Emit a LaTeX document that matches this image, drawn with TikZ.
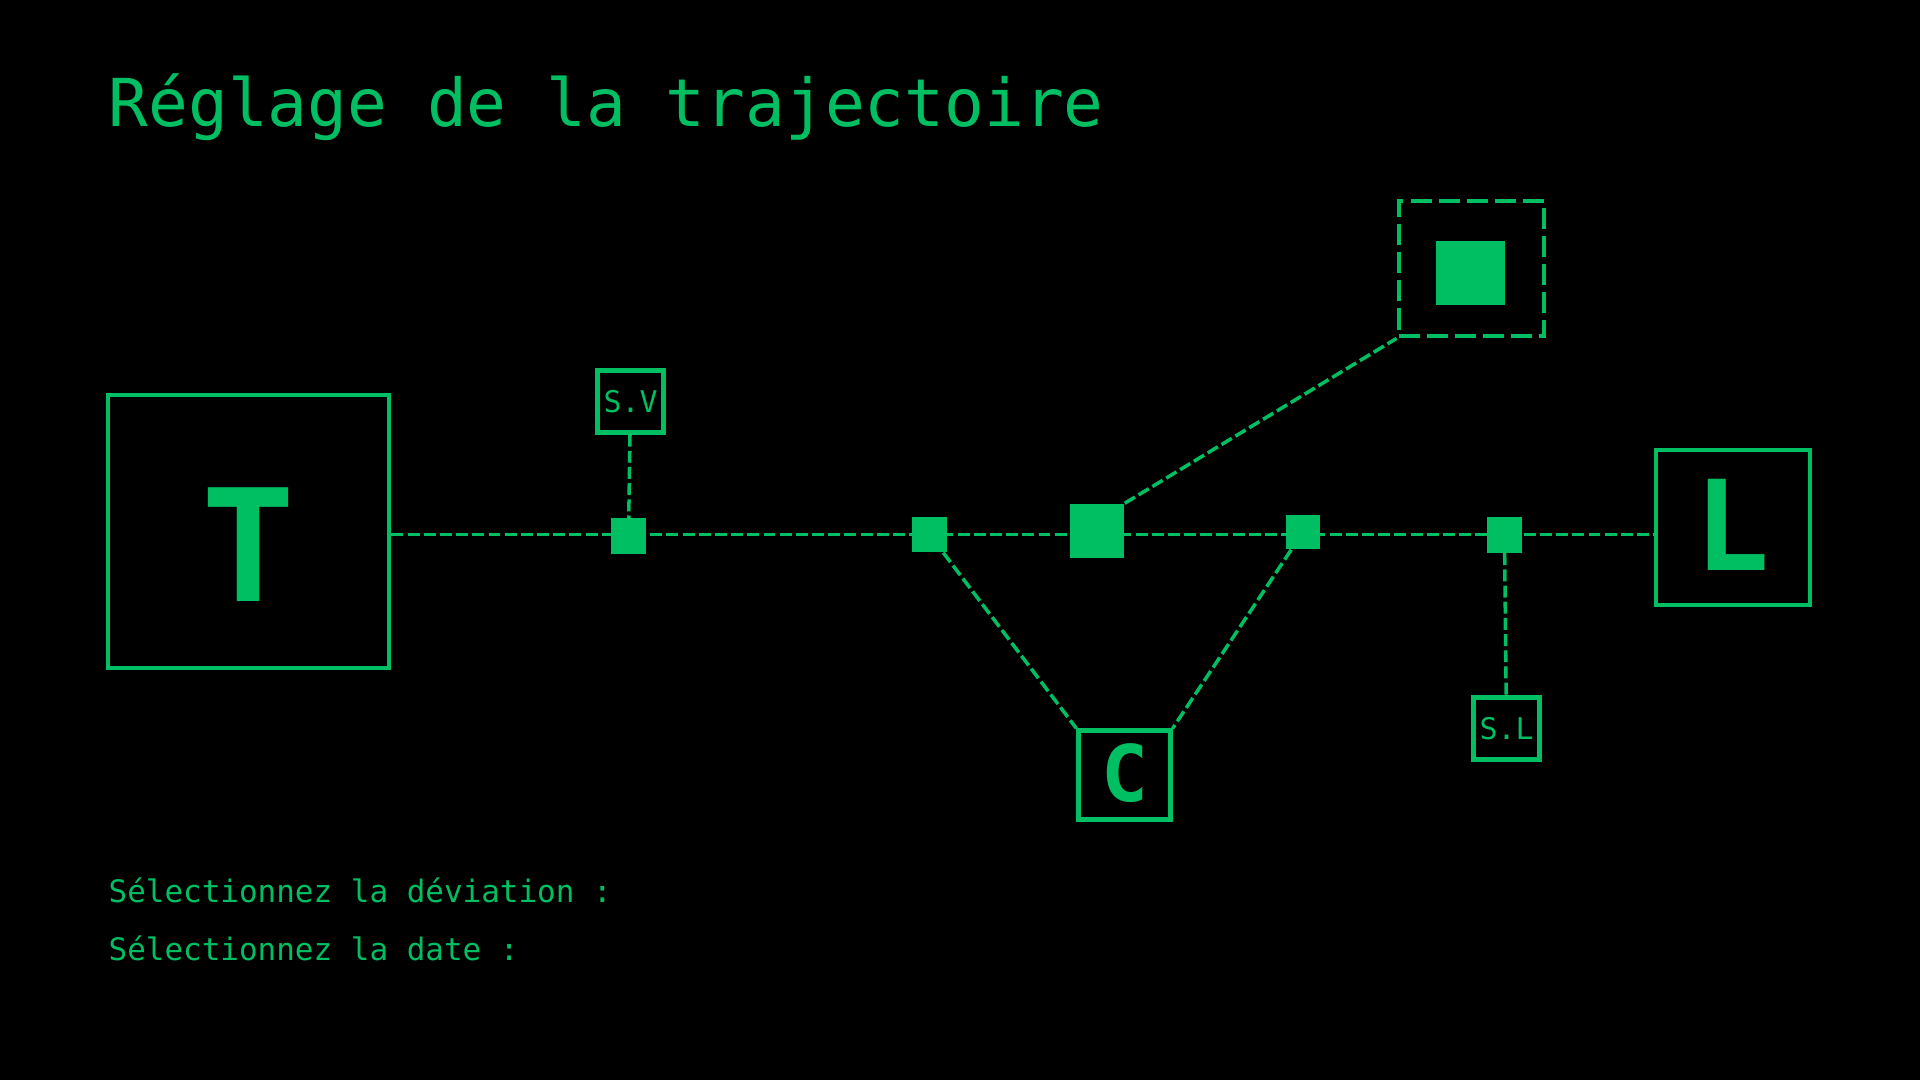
\documentclass[tikz,border=0pt]{standalone}
\usepackage{fontspec}
\setmonofont{DejaVu Sans Mono}
\definecolor{termgreen}{RGB}{0,190,98}

\tikzset{
  pixbox/.style={draw=termgreen, line width=1.2pt, inner sep=0pt},
  hub/.style={fill=termgreen, inner sep=0pt, minimum size=#1},
  link/.style={draw=termgreen, line width=1pt, dash pattern=on 3.4pt off 1.2pt},
  glyph/.style={text=termgreen, inner sep=0pt, anchor=base, font=\ttfamily\bfseries\fontsize{#1}{#1}\selectfont},
  label/.style={text=termgreen, inner sep=0pt, anchor=base west, font=\ttfamily\fontsize{#1}{#1}\selectfont},
}

\begin{document}
\begin{tikzpicture}[x=0.01cm, y=-0.01cm]
  \fill[black] (0,0) rectangle (1920,1080);
  \useasboundingbox (0,0) rectangle (1920,1080);

  \node[label=18.8] (title) at (108,127) {Réglage de la trajectoire};

  % boxes
  \node[pixbox, minimum width=2.815cm, minimum height=2.735cm] (T) at (248.5,531.5) {};
  \node[glyph=44.4] (Tglyph) at (248.5,602) {T};
  \node[pixbox, minimum width=1.545cm, minimum height=1.555cm] (L) at (1733,527.5) {};
  \node[glyph=35.6] (Lglyph) at (1732,571) {L};
  \node[pixbox, minimum width=0.92cm, minimum height=0.89cm] (C) at (1124.5,775) {};
  \node[glyph=22.2] (Cglyph) at (1124.5,802) {C};
  \node[pixbox, minimum width=0.66cm, minimum height=0.62cm,
        text=termgreen, font=\ttfamily\fontsize{8.5}{8.5}\selectfont] (sv) at (630.5,401.5) {S.V};
  \node[pixbox, minimum width=0.66cm, minimum height=0.62cm,
        text=termgreen, font=\ttfamily\fontsize{8.5}{8.5}\selectfont] (sl) at (1506.5,728.5) {S.L};
  \node[pixbox, dash pattern=on 6pt off 2pt, minimum width=1.455cm, minimum height=1.355cm] (tgt) at (1471.5,268.5) {};
  \node[fill=termgreen, inner sep=0pt, minimum width=0.69cm, minimum height=0.64cm] (tgtcore) at (1470.5,273) {};

  % main rail, under the hubs
  \coordinate (rail) at (0,534.5);
  \draw[link] (T.east |- rail) -- (L.west |- rail);

  % hubs on the path
  \node[hub=0.35cm] (j1) at (628.5,536) {};
  \node[hub=0.35cm] (j2) at (929.5,534.5) {};
  \node[hub=0.54cm] (big) at (1097,531) {};
  \node[hub=0.34cm] (j3) at (1303,532) {};
  \node[hub=0.35cm] (j4) at (1504.5,535) {};

  % links
  \draw[link] (sv) -- (j1);
  \draw[link] (j2) -- (C.north west);
  \draw[link] (j3) -- (C.north east);
  \draw[link] (big.north east) -- (tgt.south west);
  \draw[link] (j4) -- (sl);

  \node[label=8.8] (dev) at (108,903) {Sélectionnez la déviation :};
  \node[label=8.8] (date) at (108,961) {Sélectionnez la date :};
\end{tikzpicture}
\end{document}
